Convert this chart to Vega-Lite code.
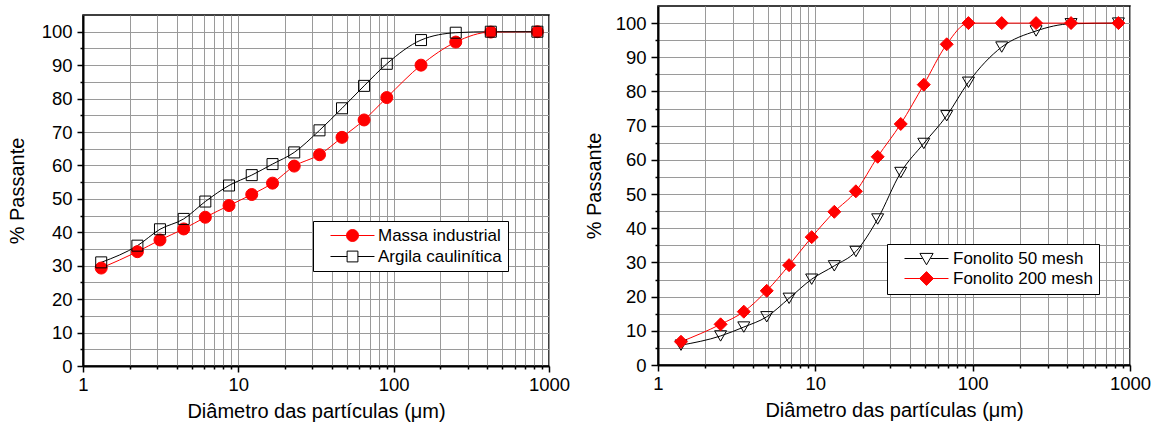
{
  "$schema": "https://vega.github.io/schema/vega-lite/v6.json",
  "padding": {"left": 6, "top": 5, "right": 0, "bottom": 0},
  "autosize": {"type": "pad"},
  "background": "white",
  "spacing": 12,
  "resolve": {
    "scale": {"color": "independent"},
    "legend": {"color": "independent"}
  },
  "config": {
    "font": "Liberation Sans",
    "view": {"stroke": "#000", "strokeWidth": 1.5},
    "axis": {
      "domainColor": "#000",
      "domainWidth": 2,
      "tickColor": "#000",
      "tickWidth": 1.5,
      "gridColor": "#9a9a9a",
      "gridWidth": 1,
      "gridOpacity": 1,
      "labelFont": "Liberation Sans",
      "labelFontSize": 18.5,
      "labelColor": "#000",
      "titleFont": "Liberation Sans",
      "titleFontSize": 20,
      "titleFontWeight": "normal",
      "titleColor": "#000",
      "labelOverlap": false,
      "labelFlush": false
    },
    "legend": {
      "labelFont": "Liberation Sans",
      "labelFontSize": 17,
      "labelColor": "#000"
    }
  },
  "datasets": {
    "left": [
      {"d": 1.31, "p": 29.3, "s": "Massa industrial"},
      {"d": 2.24, "p": 34.2, "s": "Massa industrial"},
      {"d": 3.13, "p": 37.7, "s": "Massa industrial"},
      {"d": 4.45, "p": 41.0, "s": "Massa industrial"},
      {"d": 6.13, "p": 44.5, "s": "Massa industrial"},
      {"d": 8.71, "p": 48.0, "s": "Massa industrial"},
      {"d": 12.2, "p": 51.3, "s": "Massa industrial"},
      {"d": 16.6, "p": 54.7, "s": "Massa industrial"},
      {"d": 22.9, "p": 59.8, "s": "Massa industrial"},
      {"d": 33.3, "p": 63.2, "s": "Massa industrial"},
      {"d": 46.5, "p": 68.4, "s": "Massa industrial"},
      {"d": 64.5, "p": 73.6, "s": "Massa industrial"},
      {"d": 90.3, "p": 80.3, "s": "Massa industrial"},
      {"d": 150, "p": 90.0, "s": "Massa industrial"},
      {"d": 251, "p": 96.9, "s": "Massa industrial"},
      {"d": 422, "p": 99.9, "s": "Massa industrial"},
      {"d": 842, "p": 100, "s": "Massa industrial"},
      {"d": 1.31, "p": 31.0, "s": "Argila caulinítica"},
      {"d": 2.24, "p": 36.0, "s": "Argila caulinítica"},
      {"d": 3.13, "p": 40.9, "s": "Argila caulinítica"},
      {"d": 4.45, "p": 44.0, "s": "Argila caulinítica"},
      {"d": 6.13, "p": 49.2, "s": "Argila caulinítica"},
      {"d": 8.71, "p": 54.0, "s": "Argila caulinítica"},
      {"d": 12.2, "p": 57.1, "s": "Argila caulinítica"},
      {"d": 16.6, "p": 60.4, "s": "Argila caulinítica"},
      {"d": 22.9, "p": 63.9, "s": "Argila caulinítica"},
      {"d": 33.3, "p": 70.5, "s": "Argila caulinítica"},
      {"d": 46.5, "p": 77.1, "s": "Argila caulinítica"},
      {"d": 64.5, "p": 83.8, "s": "Argila caulinítica"},
      {"d": 90.3, "p": 90.4, "s": "Argila caulinítica"},
      {"d": 150, "p": 97.5, "s": "Argila caulinítica"},
      {"d": 251, "p": 99.7, "s": "Argila caulinítica"},
      {"d": 422, "p": 100, "s": "Argila caulinítica"},
      {"d": 842, "p": 100, "s": "Argila caulinítica"}
    ],
    "right": [
      {"d": 1.40, "p": 5.8, "s": "Fonolito 50 mesh"},
      {"d": 2.50, "p": 8.5, "s": "Fonolito 50 mesh"},
      {"d": 3.51, "p": 11.1, "s": "Fonolito 50 mesh"},
      {"d": 4.91, "p": 14.1, "s": "Fonolito 50 mesh"},
      {"d": 6.81, "p": 19.5, "s": "Fonolito 50 mesh"},
      {"d": 9.48, "p": 25.1, "s": "Fonolito 50 mesh"},
      {"d": 13.2, "p": 29.0, "s": "Fonolito 50 mesh"},
      {"d": 18.1, "p": 33.2, "s": "Fonolito 50 mesh"},
      {"d": 24.9, "p": 42.7, "s": "Fonolito 50 mesh"},
      {"d": 34.9, "p": 56.3, "s": "Fonolito 50 mesh"},
      {"d": 48.9, "p": 64.8, "s": "Fonolito 50 mesh"},
      {"d": 68.4, "p": 72.9, "s": "Fonolito 50 mesh"},
      {"d": 94.0, "p": 82.7, "s": "Fonolito 50 mesh"},
      {"d": 153, "p": 93.0, "s": "Fonolito 50 mesh"},
      {"d": 253, "p": 97.7, "s": "Fonolito 50 mesh"},
      {"d": 422, "p": 99.8, "s": "Fonolito 50 mesh"},
      {"d": 844, "p": 100, "s": "Fonolito 50 mesh"},
      {"d": 1.40, "p": 6.8, "s": "Fonolito 200 mesh"},
      {"d": 2.50, "p": 11.9, "s": "Fonolito 200 mesh"},
      {"d": 3.51, "p": 15.6, "s": "Fonolito 200 mesh"},
      {"d": 4.91, "p": 21.7, "s": "Fonolito 200 mesh"},
      {"d": 6.81, "p": 29.2, "s": "Fonolito 200 mesh"},
      {"d": 9.48, "p": 37.4, "s": "Fonolito 200 mesh"},
      {"d": 13.2, "p": 44.8, "s": "Fonolito 200 mesh"},
      {"d": 18.1, "p": 50.8, "s": "Fonolito 200 mesh"},
      {"d": 24.9, "p": 60.9, "s": "Fonolito 200 mesh"},
      {"d": 34.9, "p": 70.5, "s": "Fonolito 200 mesh"},
      {"d": 48.9, "p": 82.0, "s": "Fonolito 200 mesh"},
      {"d": 68.4, "p": 93.8, "s": "Fonolito 200 mesh"},
      {"d": 94.0, "p": 100, "s": "Fonolito 200 mesh"},
      {"d": 153, "p": 100, "s": "Fonolito 200 mesh"},
      {"d": 253, "p": 100, "s": "Fonolito 200 mesh"},
      {"d": 422, "p": 100, "s": "Fonolito 200 mesh"},
      {"d": 844, "p": 100, "s": "Fonolito 200 mesh"}
    ]
  },
  "hconcat": [
    {
      "spacing": 7,
      "vconcat": [
        {
          "width": 466,
          "height": 1,
          "view": {"stroke": null},
          "data": {"values": [{"t": 0}]},
          "mark": {"type": "point", "size": 0, "opacity": 0},
          "encoding": {}
        },
        {
          "width": 466,
          "height": 351,
          "data": {"name": "left"},
          "encoding": {
            "x": {
              "field": "d", "type": "quantitative",
              "scale": {"type": "log", "domain": [1, 1000], "nice": false},
              "axis": {
                "title": "Diâmetro das partículas (μm)",
                "values": [1,2,3,4,5,6,7,8,9,10,20,30,40,50,60,70,80,90,100,200,300,400,500,600,700,800,900,1000],
                "labelExpr": "indexof([1,10,100,1000], datum.value) >= 0 ? format(datum.value, 'd') : ''",
                "tickSize": {"condition": {"test": "indexof([1,10,100,1000], datum.value) >= 0", "value": 6}, "value": 3},
                "labelPadding": 3,
                "titlePadding": 8
              }
            },
            "y": {
              "field": "p", "type": "quantitative",
              "scale": {"domain": [0, 105], "nice": false},
              "axis": {
                "title": "% Passante",
                "values": [0,5,10,15,20,25,30,35,40,45,50,55,60,65,70,75,80,85,90,95,100],
                "labelExpr": "datum.value % 10 === 0 ? datum.label : ''",
                "tickSize": {"condition": {"test": "datum.value % 10 === 0", "value": 6}, "value": 3},
                "labelPadding": 5,
                "titlePadding": 14
              }
            }
          },
          "layer": [
            {
              "mark": {"type": "line", "interpolate": "monotone", "strokeWidth": 1},
              "encoding": {
                "color": {
                  "field": "s", "type": "nominal",
                  "scale": {"domain": ["Massa industrial", "Argila caulinítica"], "range": ["#ff0000", "#000000"]},
                  "legend": {
                    "title": null,
                    "orient": "none",
                    "legendX": 230,
                    "legendY": 215,
                    "padding": 6,
                    "strokeColor": "#000",
                    "fillColor": "#fff",
                    "symbolSize": 144,
                    "labelOffset": 42,
                    "rowPadding": 3,
                    "labelExpr": "datum.label + '\u00a0\u00a0'",
                    "encode": {
                      "symbols": {
                        "update": {
                          "shape": {"signal": "datum.value === 'Massa industrial' ? 'M0.5,0H7.83M3.17,0A1,1 0 1,1 5.17,0A1,1 0 1,1 3.17,0Z' : 'M0.5,0H3.27M5.07,0H7.83M3.27,-0.9H5.07V0.9H3.27Z'"},
                          "fill": {"signal": "datum.value === 'Massa industrial' ? '#ff0000' : 'transparent'"},
                          "stroke": {"signal": "datum.value === 'Massa industrial' ? '#ff0000' : '#000000'"},
                          "strokeWidth": {"value": 1},
                          "size": {"value": 144}
                        }
                      }
                    }
                  }
                }
              }
            },
            {
              "transform": [{"filter": "datum.s === 'Massa industrial'"}],
              "mark": {"type": "point", "shape": "circle", "size": 144, "filled": true, "fill": "#ff0000", "stroke": "#ff0000", "strokeWidth": 1, "opacity": 1}
            },
            {
              "transform": [{"filter": "datum.s === 'Argila caulinítica'"}],
              "mark": {"type": "point", "shape": "square", "size": 121, "fill": "transparent", "stroke": "#000000", "strokeWidth": 1, "opacity": 1}
            }
          ]
        }
      ]
    },
    {
      "width": 472,
      "height": 359,
      "data": {"name": "right"},
      "encoding": {
        "x": {
          "field": "d", "type": "quantitative",
          "scale": {"type": "log", "domain": [1, 1000], "nice": false},
          "axis": {
            "title": "Diâmetro das partículas (μm)",
            "values": [1,2,3,4,5,6,7,8,9,10,20,30,40,50,60,70,80,90,100,200,300,400,500,600,700,800,900,1000],
            "labelExpr": "indexof([1,10,100,1000], datum.value) >= 0 ? format(datum.value, 'd') : ''",
            "tickSize": {"condition": {"test": "indexof([1,10,100,1000], datum.value) >= 0", "value": 6}, "value": 3},
            "labelPadding": 3,
            "titlePadding": 8
          }
        },
        "y": {
          "field": "p", "type": "quantitative",
          "scale": {"domain": [0, 105], "nice": false},
          "axis": {
            "title": "% Passante",
            "values": [0,5,10,15,20,25,30,35,40,45,50,55,60,65,70,75,80,85,90,95,100],
            "labelExpr": "datum.value % 10 === 0 ? datum.label : ''",
            "tickSize": {"condition": {"test": "datum.value % 10 === 0", "value": 7}, "value": 3},
            "labelPadding": 5,
            "titlePadding": 11
          }
        }
      },
      "layer": [
        {
          "mark": {"type": "line", "interpolate": "monotone", "strokeWidth": 1},
          "encoding": {
            "color": {
              "field": "s", "type": "nominal",
              "scale": {"domain": ["Fonolito 50 mesh", "Fonolito 200 mesh"], "range": ["#000000", "#ff0000"]},
              "legend": {
                "title": null,
                "orient": "none",
                "legendX": 229,
                "legendY": 238,
                "padding": 6,
                "strokeColor": "#000",
                "fillColor": "#fff",
                "symbolSize": 144,
                "labelOffset": 43,
                "rowPadding": 2,
                "labelExpr": "datum.label + '\u00a0\u00a0\u00a0'",
                "encode": {
                  "symbols": {
                    "update": {
                      "shape": {"signal": "datum.value === 'Fonolito 200 mesh' ? 'M0.5,0H7.83M4.17,-1.15L5.32,0L4.17,1.15L3.02,0Z' : 'M0.5,0H3.5M4.84,0H7.83M3.07,-0.85H5.27L4.17,1.05Z'"},
                      "fill": {"signal": "datum.value === 'Fonolito 200 mesh' ? '#ff0000' : 'transparent'"},
                      "stroke": {"signal": "datum.value === 'Fonolito 200 mesh' ? '#ff0000' : '#000000'"},
                      "strokeWidth": {"value": 1},
                      "size": {"value": 144}
                    }
                  }
                }
              }
            }
          }
        },
        {
          "transform": [{"filter": "datum.s === 'Fonolito 50 mesh'"}],
          "mark": {"type": "point", "shape": "triangle-down", "size": 144, "fill": "transparent", "stroke": "#000000", "strokeWidth": 1, "opacity": 1}
        },
        {
          "transform": [{"filter": "datum.s === 'Fonolito 200 mesh'"}],
          "mark": {"type": "point", "shape": "diamond", "size": 169, "filled": true, "fill": "#ff0000", "stroke": "#ff0000", "strokeWidth": 1, "opacity": 1}
        }
      ]
    }
  ]
}
